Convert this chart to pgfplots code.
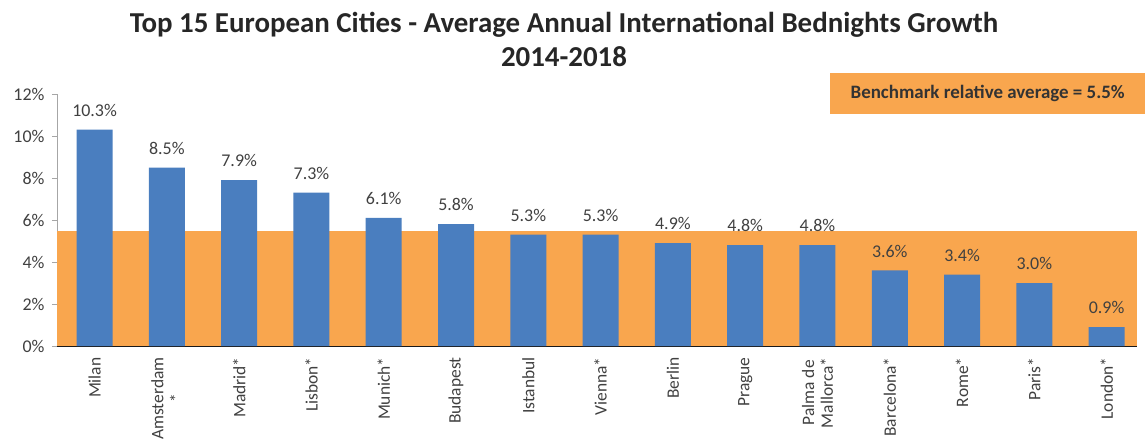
\documentclass[border=0pt]{standalone}
\usepackage{pgfplots}
\pgfplotsset{compat=1.18}
\usepackage{fontspec}
\setmainfont{Carlito}
\definecolor{barblue}{HTML}{4A7EBF}
\definecolor{bandorange}{HTML}{F9A64E}
\definecolor{txt}{HTML}{404040}
\begin{document}
\begin{tikzpicture}
\useasboundingbox (-57bp,-95bp) rectangle (1088bp,346bp);
\begin{axis}[
  name=ax, at={(0,0)}, anchor=south west,
  scale only axis, width=1080bp, height=252bp,
  xmin=-0.52, xmax=14.42, ymin=0, ymax=12,
  axis x line*=bottom, axis y line*=left,
  x axis line style={draw=black!90, line width=1.5pt},
  y axis line style={draw=gray!70},
  ytick={0,2,4,6,8,10,12},
  yticklabels={0\%,2\%,4\%,6\%,8\%,10\%,12\%},
  ytick style={draw=gray!70},
  tick align=outside, major tick length=5bp,
  yticklabel style={font=\fontsize{18}{20}\selectfont, text=txt, xshift=-4bp},
  xtick={0,...,14}, xtick style={draw=none},
  xticklabels={Milan, Amsterdam\\*, Madrid*, Lisbon*, Munich*, Budapest, Istanbul, Vienna*, Berlin, Prague, Palma de\\Mallorca*, Barcelona*, Rome*, Paris*, London*},
  xticklabel style={rotate=90, anchor=east, align=center, font=\fontsize{17.5}{19}\selectfont, text=txt, xshift=-3bp},
  /pgf/number format/assume math mode=true,
  clip=false,
]
\addplot[fill=bandorange, draw=none] coordinates {(-0.52,0) (-0.52,5.5) (14.42,5.5) (14.42,0)} -- cycle;
\addplot[ybar, bar width=36bp, fill=barblue, draw=none,
  nodes near coords={\pgfmathprintnumber[fixed,fixed zerofill,precision=1]{\pgfplotspointmeta}\%},
  nodes near coords style={font=\fontsize{18}{18}\selectfont, text=txt, inner sep=4bp, yshift=9bp}]
coordinates {(0,10.3) (1,8.5) (2,7.9) (3,7.3) (4,6.1) (5,5.8) (6,5.3) (7,5.3) (8,4.9) (9,4.8) (10,4.8) (11,3.6) (12,3.4) (13,3.0) (14,0.9)};
\end{axis}
\node[font=\bfseries\fontsize{29}{30}\selectfont, text=black!85, anchor=base] at (507bp,313bp) {Top 15 European Cities - Average Annual International Bednights Growth};
\node[font=\bfseries\fontsize{29}{30}\selectfont, text=black!85, anchor=base] at (507bp,279bp) {2014-2018};
\node[fill=bandorange, minimum width=315bp, minimum height=41bp, font=\bfseries\fontsize{19}{19}\selectfont, text=black!80, anchor=north west] at (773bp,273bp) {Benchmark relative average = 5.5\%};
\end{tikzpicture}
\end{document}
